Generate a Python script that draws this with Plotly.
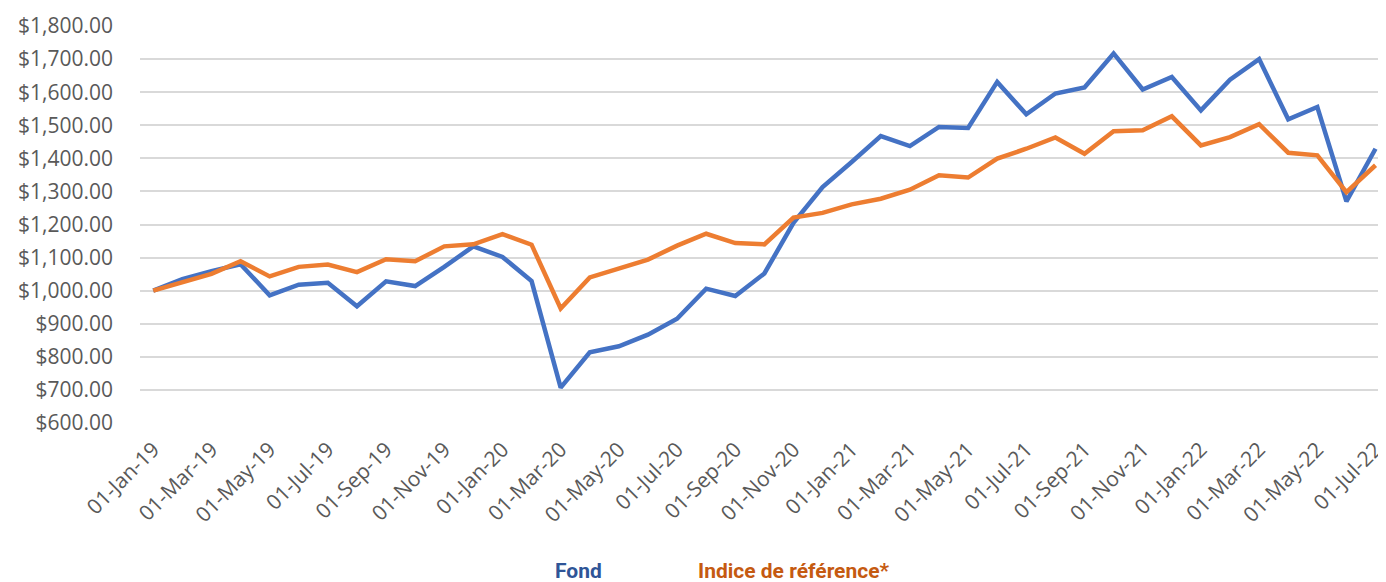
import plotly.graph_objects as go
import pandas as pd

dates = pd.date_range("2019-01-01", "2022-07-01", freq="MS")
categories = [d.strftime("%d-%b-%y") for d in dates]

fond = [1000, 1035, 1059, 1080, 986, 1018, 1024, 953, 1028, 1014, 1072,
        1134, 1102, 1029, 707, 814, 832, 867, 915, 1006, 984, 1052,
        1205, 1313, 1389, 1467, 1437, 1495, 1492, 1631, 1533, 1596,
        1614, 1717, 1608, 1646, 1545, 1638, 1700, 1518, 1555, 1270, 1429]

indice = [1000, 1026, 1051, 1089, 1043, 1072, 1079, 1056, 1095, 1089, 1134,
          1140, 1171, 1139, 946, 1040, 1067, 1094, 1136, 1172, 1144, 1140,
          1221, 1235, 1261, 1278, 1305, 1349, 1342, 1399, 1429, 1463,
          1414, 1482, 1485, 1527, 1439, 1464, 1503, 1417, 1409, 1298, 1379]

y_ticks = [600, 700, 800, 900, 1000, 1100, 1200, 1300, 1400, 1500, 1600, 1700, 1800]

fig = go.Figure()
fig.add_trace(go.Scatter(x=categories, y=fond, mode="lines", name="Fond",
                         line=dict(color="#4472C4", width=4.5)))
fig.add_trace(go.Scatter(x=categories, y=indice, mode="lines", name="Indice de référence*",
                         line=dict(color="#ED7D31", width=4.5)))

y_font = dict(family="Open Sans", size=21, color="#595959")
x_font = dict(family="Open Sans", size=21, color="#595959")
legend_font = "Liberation Sans Narrow, Arial Narrow, Roboto"

# page body has an 8px margin, so the figure is sized/offset to compensate
fig.update_layout(
    width=1378, height=574,
    margin=dict(l=132, r=0, t=18, b=159),
    paper_bgcolor="white", plot_bgcolor="white",
    showlegend=False,
    xaxis=dict(type="category", range=[-0.455, 42.36], automargin=False,
               tickvals=categories[::2], ticktext=categories[::2],
               tickangle=-45, tickfont=x_font, showgrid=False,
               showline=False, zeroline=False, ticks="", ticklabelstandoff=9),
    yaxis=dict(range=[600, 1800], tickvals=y_ticks, tickformat="$,.2f", automargin=False,
               tickfont=y_font, showgrid=True, gridcolor="#D9D9D9", gridwidth=1.5,
               zeroline=False, showline=False, ticks="", ticklabelstandoff=26),
    annotations=[
        dict(text="<b>Fond</b>", x=0.3312, y=-0.372, xref="paper", yref="paper",
             xanchor="left", yanchor="middle", showarrow=False,
             font=dict(family=legend_font, size=21, color="#2F5597")),
        dict(text="<b>Indice de référence*</b>", x=0.4462, y=-0.372, xref="paper", yref="paper",
             xanchor="left", yanchor="middle", showarrow=False,
             font=dict(family=legend_font, size=21, color="#C55A11")),
    ],
)

fig.write_html("out.html")
